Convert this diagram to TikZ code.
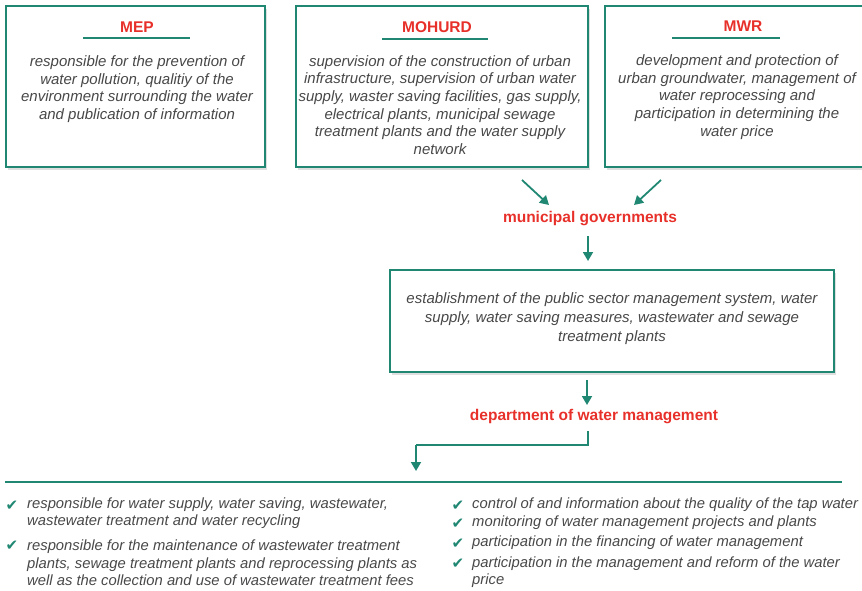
\documentclass[tikz,border=0pt]{standalone}
\usepackage{fontspec}
\setmainfont{Liberation Sans}
\newfontfamily\symfont{DejaVu Sans}
\usetikzlibrary{arrows.meta,shadows}
\definecolor{teal1}{RGB}{32,135,115}
\definecolor{red1}{RGB}{232,48,42}
\definecolor{gray1}{RGB}{72,72,72}
\begin{document}
\begin{tikzpicture}[x=1pt,y=-1pt,
  box/.style={draw=teal1,line width=1.8pt,fill=white,
    drop shadow={shadow xshift=2pt,shadow yshift=-2.5pt,opacity=0.25}},
  title/.style={text=red1,font=\fontsize{15.5}{17}\bfseries\selectfont,inner sep=0pt},
  body/.style={text=gray1,font=\fontsize{15}{17.7}\itshape\selectfont,align=center,inner sep=0pt},
  item/.style={text=gray1,font=\fontsize{14.8}{17.3}\itshape\selectfont,align=left,inner sep=0pt,anchor=west},
  tick/.style={text=teal1,font=\symfont\fontsize{15}{17}\selectfont,inner sep=0pt},
  uline/.style={draw=teal1,line width=1.8pt},
  arr/.style={draw=teal1,line width=1.8pt,-{Triangle[length=9pt,width=10pt]}},
  conn/.style={draw=teal1,line width=1.8pt}]
\useasboundingbox (0,0) rectangle (862,590);
\clip (0,0) rectangle (862,590);
% top boxes
\path[box] (6,6) rectangle (265,167);
\path[box] (296,6) rectangle (588,167);
\path[box] (605,6) rectangle (870,167);
\node[title] (mep) at (137,27) {MEP};
\draw[uline] (83,38) -- (190,38);
\node[body] (meptext) at (137,89) {responsible for the prevention of\\water pollution, qualitiy of the\\environment surrounding the water\\and publication of information};
\node[title] (mohurd) at (437,27) {MOHURD};
\draw[uline] (382,39) -- (488,39);
\node[body] (mohurdtext) at (440,105) {supervision of the construction of urban\\infrastructure, supervision of urban water\\supply, waster saving facilities, gas supply,\\electrical plants, municipal sewage\\treatment plants and the water supply\\network};
\node[title] (mwr) at (743,26) {MWR};
\draw[uline] (672,38) -- (780,38);
\node[body] (mwrtext) at (737,97) {development and protection of\\urban groundwater, management of\\water reprocessing and\\participation in determining the\\water price};
% municipal
\coordinate (a1s) at (522,180);
\coordinate (a1e) at (549,205);
\coordinate (a2s) at (661,180);
\coordinate (a2e) at (634,205);
\draw[arr] (a1s) -- (a1e);
\draw[arr] (a2s) -- (a2e);
\node[title] (muni) at (590,219) {municipal governments};
% middle box
\path[box] (390,270) rectangle (834,372);
\node[body,font=\fontsize{15}{19}\itshape\selectfont] (midtext) at (612,319) {establishment of the public sector management system, water\\supply, water saving measures, wastewater and sewage\\treatment plants};
\coordinate (a3s) at (588,236);
\coordinate (a3e) at (588,261);
\draw[arr] (a3s) -- (a3e);
\coordinate (a4s) at (587,380);
\coordinate (a4e) at (587,405);
\draw[arr] (a4s) -- (a4e);
\node[title] (dept) at (594,417) {department of water management};
\coordinate (c1) at (588,431);
\coordinate (c2) at (588,445);
\coordinate (c3) at (416,445);
\coordinate (c4) at (416,471);
\draw[conn] (c1) -- (c2) -- (c3);
\draw[arr] (c3) -- (c4);
\coordinate (hl) at (5,482);
\coordinate (hr) at (842,482);
\draw[conn] (hl) -- (hr);
% left list
\node[tick] (t1) at (12,506) {✔};
\node[item] (i1) at (27,513.5) {responsible for water supply, water saving, wastewater,\\wastewater treatment and water recycling};
\node[tick] (t2) at (12,546) {✔};
\node[item] (i2) at (27,563) {responsible for the maintenance of wastewater treatment\\plants, sewage treatment plants and reprocessing plants as\\well as the collection and use of wastewater treatment fees};
% right list
\node[tick] (t3) at (458,506) {✔};
\node[item] (i3) at (472,505) {control of and information about the quality of the tap water};
\node[tick] (t4) at (458,524) {✔};
\node[item] (i4) at (472,523) {monitoring of water management projects and plants};
\node[tick] (t5) at (458,544) {✔};
\node[item] (i5) at (472,543) {participation in the financing of water management};
\node[tick] (t6) at (458,564) {✔};
\node[item] (i6) at (472,572) {participation in the management and reform of the water\\price};
\end{tikzpicture}
\end{document}
